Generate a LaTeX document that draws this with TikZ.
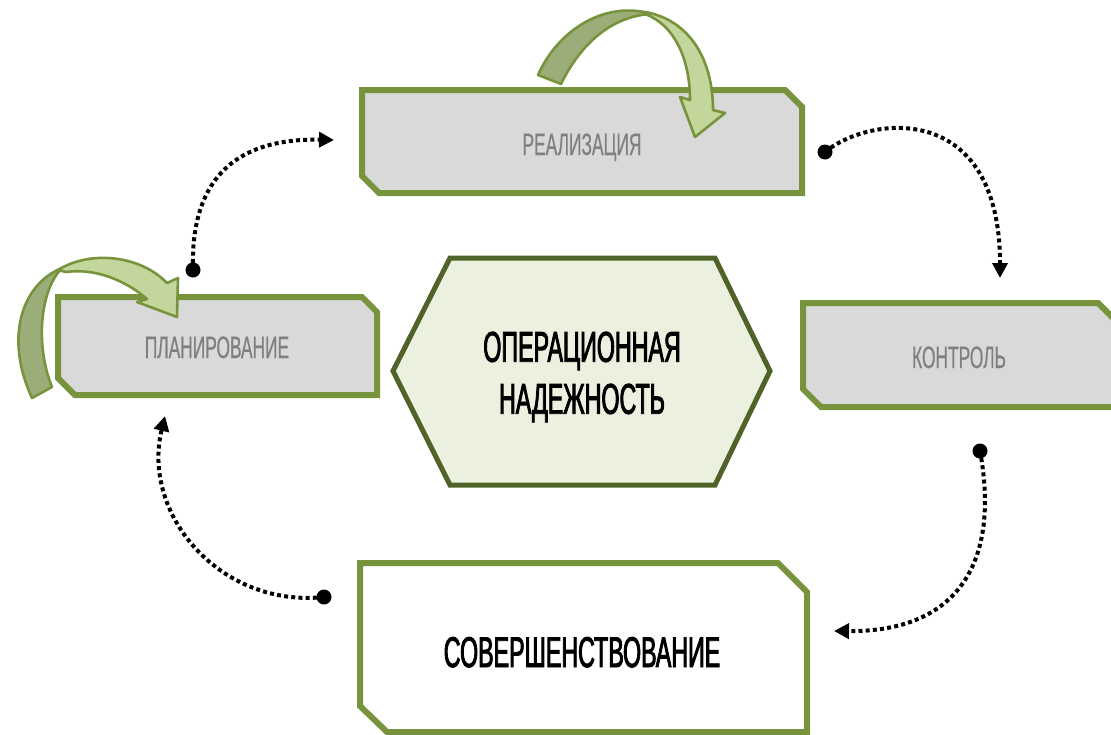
\documentclass[tikz,border=0pt]{standalone}
\usepackage{fontspec}
\setmainfont[FakeStretch=0.56,FakeBold=0.4]{Liberation Sans}
\newfontfamily\blackfont[FakeStretch=0.54,FakeBold=2]{Liberation Sans}
\usetikzlibrary{arrows.meta}
\definecolor{olive}{HTML}{77933C}
\definecolor{boxgray}{HTML}{D9D9D9}
\definecolor{labelgray}{HTML}{7F7F7F}
\definecolor{hexfill}{HTML}{EBF1DE}
\definecolor{hexline}{HTML}{4F6228}
\definecolor{arrdark}{HTML}{9BAE7A}
\definecolor{arrlight}{HTML}{C3D69B}
\begin{document}
\begin{tikzpicture}[x=0.5pt,y=-0.5pt,
  stepbox/.style={draw=olive, line width=3pt, fill=boxgray, line join=miter},
  whitebox/.style={draw=olive, line width=3pt, fill=white, line join=miter},
  hexbox/.style={draw=hexline, line width=2.5pt, fill=hexfill, line join=miter},
  graylabel/.style={text=labelgray, font=\fontsize{15.5}{17}\selectfont, inner sep=0pt, anchor=base},
  blacklabel/.style={text=black, font=\blackfont\fontsize{21.5}{26}\selectfont, inner sep=0pt, align=center},
  flow/.style={line width=2pt, dash pattern=on 2pt off 1.6pt, -{Triangle[length=7.5pt,width=7.5pt]}},
  startdot/.style={circle, fill=black, inner sep=0pt, minimum size=7.5pt},
  bendarrow/.style={draw=olive, line width=1.3pt, line join=round}]
\useasboundingbox (0,0) rectangle (1111,734);

% boxes
\draw[stepbox] (362,90) -- (785,90) -- (802,107) -- (802,193) -- (379,193) -- (362,176) -- cycle;
\node[graylabel] (real) at (582,155) {РЕАЛИЗАЦИЯ};

\draw[stepbox] (58,297) -- (362,297) -- (377,312) -- (377,395) -- (75,395) -- (58,378) -- cycle;
\node[graylabel] (plan) at (217,358) {ПЛАНИРОВАНИЕ};

\draw[stepbox] (803,303) -- (1098,303) -- (1116,321) -- (1116,407) -- (821,407) -- (803,389) -- cycle;
\node[graylabel] (ctrl) at (959,368) {КОНТРОЛЬ};

\draw[whitebox] (360,563) -- (778,563) -- (807,592) -- (807,732) -- (387,732) -- (360,706) -- cycle;
\node[blacklabel, anchor=base] (impr) at (582,667) {СОВЕРШЕНСТВОВАНИЕ};

\draw[hexbox] (450,258) -- (715,258) -- (770,371) -- (715,485) -- (450,485) -- (393,371) -- cycle;
\node[blacklabel] (core) at (582,377) {ОПЕРАЦИОННАЯ\\НАДЕЖНОСТЬ};

% curved block arrows
\draw[bendarrow, fill=arrdark] (538,75) .. controls (558,30) and (605,0) .. (652,14) .. controls (620,15) and (585,35) .. (561,84) -- cycle;
\draw[bendarrow, fill=arrlight] (645,12) .. controls (690,20) and (713,60) .. (713,110) -- (725,113) -- (695,137) -- (680,97) -- (690,100) .. controls (690,60) and (675,25) .. (645,14) -- cycle;

\draw[bendarrow, fill=arrdark] (32,398) .. controls (5,340) and (20,285) .. (62,268) .. controls (40,290) and (35,345) .. (52,387) -- cycle;
\draw[bendarrow, fill=arrlight] (58,270) .. controls (90,250) and (140,255) .. (167,283) -- (178,278) -- (177,317) -- (137,302) -- (147,299) .. controls (125,280) and (95,268) .. (66,272) -- cycle;

% dotted connectors
\node[startdot] (d1) at (193,270) {};
\coordinate (e1) at (334,140);
\draw[flow] (d1.center) .. controls (190,175) and (240,138) .. (e1);

\node[startdot] (d2) at (825,152) {};
\coordinate (e2) at (1000,278);
\draw[flow] (d2.center) .. controls (870,115) and (1000,100) .. (e2);

\node[startdot] (d3) at (980,451) {};
\coordinate (e3) at (834,631);
\draw[flow] (d3.center) .. controls (1000,560) and (960,632) .. (e3);

\node[startdot] (d4) at (324,597) {};
\coordinate (e4) at (165,416);
\draw[flow] (d4.center) .. controls (221,608) and (141,515) .. (e4);
\end{tikzpicture}
\end{document}
